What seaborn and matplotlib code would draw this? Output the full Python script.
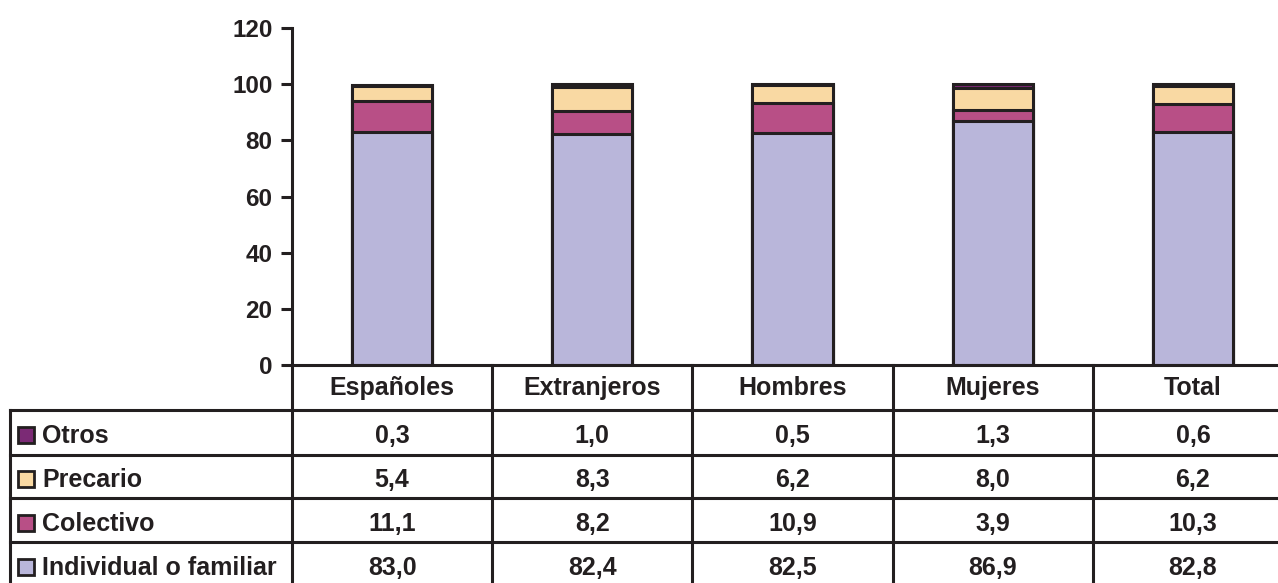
import matplotlib
matplotlib.use("Agg")
import matplotlib.pyplot as plt
import seaborn as sns
import numpy as np
import pandas as pd
from matplotlib.lines import Line2D
from matplotlib.patches import Rectangle

categories = ["Españoles", "Extranjeros", "Hombres", "Mujeres", "Total"]
individual = [83.0, 82.4, 82.5, 86.9, 82.8]
colectivo = [11.1, 8.2, 10.9, 3.9, 10.3]
precario = [5.4, 8.3, 6.2, 8.0, 6.2]
otros = [0.3, 1.0, 0.5, 1.3, 0.6]
series_names = ["Otros", "Precario", "Colectivo", "Individual o familiar"]
yticks = [0, 20, 40, 60, 80, 100, 120]

colors = {
    "Individual o familiar": "#B9B6DA",
    "Colectivo": "#B84F86",
    "Precario": "#F9D9A3",
    "Otros": "#7B2A75",
}
edge = "#231F20"

sns.set_theme(style="white")
plt.rcParams["font.family"] = ["Liberation Sans", "DejaVu Sans"]
plt.rcParams["font.weight"] = "bold"

W, H = 1278, 583
fig = plt.figure(figsize=(W / 100, H / 100), dpi=100)

def fx(px):
    return px / W

def fy(py):
    return 1 - py / H

ax_left, ax_right, ax_top, ax_bottom = 292, 1293, 28, 365
ax = fig.add_axes([fx(ax_left), fy(ax_bottom), fx(ax_right - ax_left), (ax_bottom - ax_top) / H])

values = {
    "Individual o familiar": np.array(individual),
    "Colectivo": np.array(colectivo),
    "Precario": np.array(precario),
    "Otros": np.array(otros),
}
stack_order = ["Individual o familiar", "Colectivo", "Precario", "Otros"]
cum = {}
running = np.zeros(len(categories))
for name in stack_order:
    running = running + values[name]
    cum[name] = running.copy()

# draw cumulative levels from tallest to shortest so each overlaps the previous
for name in reversed(stack_order):
    df = pd.DataFrame({"cat": categories, "val": cum[name]})
    sns.barplot(data=df, x="cat", y="val", order=categories, color=colors[name],
                saturation=1, width=0.4, edgecolor=edge, linewidth=2.2,
                errorbar=None, ax=ax)

ax.set_xlim(-0.5, len(categories) - 0.5)
ax.set_ylim(0, 120)
ax.set_yticks(yticks)
ax.set_yticklabels([str(t) for t in yticks], fontsize=17.5, fontweight="bold", color="#231F20")
ax.set_xticks([])
ax.set_xlabel("")
ax.set_ylabel("")
for s in ["top", "right"]:
    ax.spines[s].set_visible(False)
for s in ["left", "bottom"]:
    ax.spines[s].set_color(edge)
    ax.spines[s].set_linewidth(2.2)
ax.tick_params(axis="y", which="major", direction="out", length=8, width=2.2,
               color=edge, pad=6, left=True)

# ---- data table ----
lw = 2.2
col_w = (ax_right - ax_left) / len(categories)
col_edges = [ax_left + i * col_w for i in range(len(categories) + 1)]
row_lines = [410, 455, 498, 542]
row_baselines = [443, 487, 531, 575]
header_baseline = 395
table_left = 10
fs = 18

def hline(y, x0, x1):
    fig.add_artist(Line2D([fx(x0), fx(x1)], [fy(y), fy(y)], color=edge, lw=lw,
                          solid_capstyle="projecting"))

def vline(x, y0, y1):
    fig.add_artist(Line2D([fx(x), fx(x)], [fy(y0), fy(y1)], color=edge, lw=lw,
                          solid_capstyle="projecting"))

for y in row_lines:
    hline(y, table_left, W + 20)
vline(table_left, row_lines[0], H + 10)
for x in col_edges[:-1]:
    vline(x, ax_bottom, H + 10)

# header
for i, c in enumerate(categories):
    fig.text(fx(col_edges[i] + col_w / 2), fy(header_baseline), c, ha="center",
             va="baseline", fontsize=fs, fontweight="bold", color=edge)

table_vals = {"Otros": otros, "Precario": precario, "Colectivo": colectivo,
              "Individual o familiar": individual}
for r, name in enumerate(series_names):
    yb = row_baselines[r]
    # legend swatch
    sw = 16
    fig.add_artist(Rectangle((fx(18), fy(yb)), fx(sw), sw / H,
                             facecolor=colors[name], edgecolor=edge, lw=2.0,
                             transform=fig.transFigure))
    fig.text(fx(42), fy(yb), name, ha="left", va="baseline", fontsize=fs,
             fontweight="bold", color=edge)
    for i, v in enumerate(table_vals[name]):
        fig.text(fx(col_edges[i] + col_w / 2), fy(yb), f"{v:.1f}".replace(".", ","),
                 ha="center", va="baseline", fontsize=fs, fontweight="bold", color=edge)

fig.savefig("out.png", dpi=100)
